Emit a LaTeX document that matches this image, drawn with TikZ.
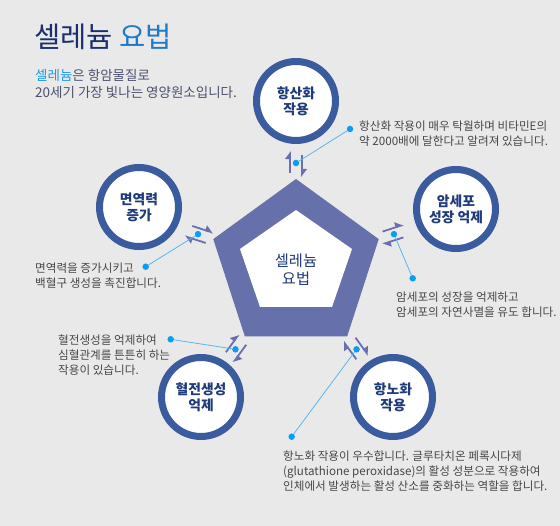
\documentclass[tikz,border=0pt]{standalone}
\usepackage{fontspec}
\setmainfont{Noto Sans CJK KR}
\usetikzlibrary{calc,arrows.meta}

\definecolor{bggray}{HTML}{E9E9E9}
\definecolor{titlenavy}{HTML}{1B2F6E}
\definecolor{titleblue}{HTML}{2079C7}
\definecolor{introblue}{HTML}{1E9AE6}
\definecolor{introgray}{HTML}{4B5070}
\definecolor{ringblue}{HTML}{3A5B9D}
\definecolor{pentablue}{HTML}{6670AA}
\definecolor{harpblue}{HTML}{6A6FB0}
\definecolor{labelnavy}{HTML}{1E3B7C}
\definecolor{dotcyan}{HTML}{0B9DF0}
\definecolor{leadblue}{HTML}{5AB6EE}
\definecolor{notegray}{HTML}{474747}

\tikzset{
  ring/.style={circle,draw=ringblue,line width=7pt,fill=white,minimum size=79pt,
    inner sep=0pt,align=center,text=labelnavy,font=\fontsize{13.8}{16}\selectfont\bfseries},
  harp/.style={draw=harpblue,line width=1.8pt,-{Triangle[harpoon,length=7pt,width=10pt]}},
  dot/.style={circle,fill=dotcyan,minimum size=6.5pt,inner sep=0pt},
  leader/.style={draw=leadblue,line width=0.8pt},
  note/.style={anchor=base west,align=left,inner sep=0pt,text=notegray,
    font=\fontsize{11.6}{15}\selectfont},
}

\begin{document}
\begin{tikzpicture}[x=1pt,y=1pt]
        \fill[bggray] (0,0) rectangle (560,-526);
        \useasboundingbox (0,0) rectangle (560,-526);

        \node[anchor=base west,inner sep=0pt,font=\fontsize{28.5}{28}\selectfont] (title) at (34,-48)
            {\textcolor{titlenavy}{셀레늄} \textcolor{titleblue}{요법}};
        \node[anchor=base west,align=left,inner sep=0pt,text=introgray,
            font=\fontsize{13.5}{17}\selectfont] (intro) at (35,-98)
            {\textcolor{introblue}{셀레늄}은 항암물질로\\20세기 가장 빛나는 영양원소입니다.};

        % pentagon
        \coordinate (pc) at (296,-266);
        \fill[pentablue] ($(pc)+(90:87)$) \foreach \a in {162,234,306,18}{ -- ($(pc)+(\a:87)$)} -- cycle;
        \fill[white] (296,-210) -- (352,-249) -- (332,-307) -- (260,-307) -- (240,-249) -- cycle;
        \node[align=center,text=labelnavy,font=\fontsize{15.3}{18}\selectfont] (center) at (296,-269.5) {셀레늄\\요법};

        \node[ring] (c1) at (296,-101) {항산화\\작용};
        \node[ring] (c2) at (456,-209) {암세포\\성장 억제};
        \node[ring] (c3) at (393,-397) {항노화\\작용};
        \node[ring] (c4) at (201,-397) {혈전생성\\억제};
        \node[ring] (c5) at (139,-207) {면역력\\증가};

        \foreach \a/\n in {90/1,18/2,306/3,234/4,162/5}{
            \begin{scope}[shift={($(pc)+(\a:103)$)},rotate=\a-90]
                \draw[harp] (-6,-10) -- (-6,12);
                \draw[harp] (6,8) -- (6,-14);
            \end{scope}
            \node[dot] (d\n) at ($(pc)+(\a:103)$) {};
        }

        \node[dot] (e1) at (350,-129) {};
        \node[dot] (e2) at (412.7,-278.3) {};
        \node[dot] (e3) at (291.7,-436.7) {};
        \node[dot] (e4) at (170.7,-339.3) {};
        \node[dot] (e5) at (145.7,-266.7) {};
        \foreach \n in {1,...,5}
            \draw[leader] (d\n) -- (e\n);

        % last line baselines
        \node[note] (t1) at (359,-146) {항산화 작용이 매우 탁월하며 비타민E의\\약 2000배에 달한다고 알려져 있습니다.};
        \node[note] (t2) at (396,-317) {암세포의 성장을 억제하고\\암세포의 자연사멸을 유도 합니다.};
        \node[note] (t3) at (283,-491) {항노화 작용이 우수합니다. 글루타치온 페록시다제\\(glutathione peroxidase)의 활성 성분으로 작용하여\\인체에서 발생하는 활성 산소를 중화하는 역할을 합니다.};
        \node[note] (t4) at (58,-375) {혈전생성을 억제하여\\심혈관계를 튼튼히 하는\\작용이 있습니다.};
        \node[note] (t5) at (35,-288) {면역력을 증가시키고\\백혈구 생성을 촉진합니다.};

    \end{tikzpicture}
\end{document}
